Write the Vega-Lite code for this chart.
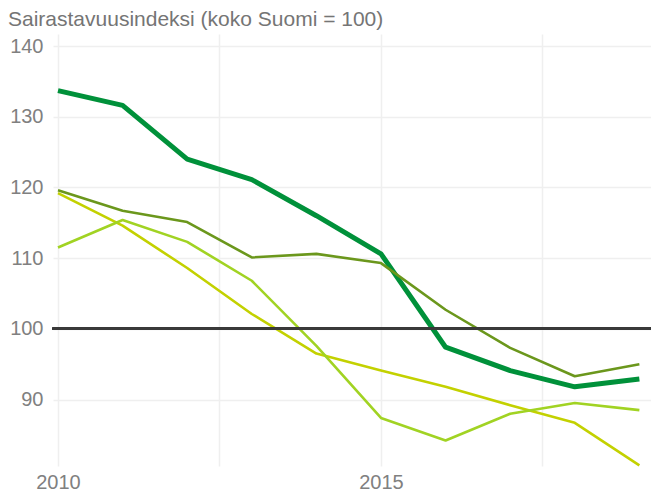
{
  "$schema": "https://vega.github.io/schema/vega-lite/v6.json",
  "width": 593,
  "height": 432,
  "autosize": {"type": "none"},
  "padding": {"left": 58, "top": 34, "right": 0, "bottom": 27},
  "background": "white",
  "title": {
    "text": "Sairastavuusindeksi (koko Suomi = 100)",
    "anchor": "start",
    "frame": "group",
    "dx": -50,
    "offset": 4,
    "font": "Liberation Sans",
    "fontSize": 21,
    "fontWeight": "normal",
    "color": "#757575"
  },
  "config": {
    "view": {"stroke": null},
    "axis": {
      "labelFont": "Liberation Sans",
      "labelFontSize": 20,
      "labelColor": "#808080",
      "gridColor": "#efefef",
      "gridWidth": 1.5,
      "domain": false,
      "title": null
    }
  },
  "data": {
    "values": [
      {"year": 2010, "series": "Alue", "value": 133.7},
      {"year": 2011, "series": "Alue", "value": 131.6},
      {"year": 2012, "series": "Alue", "value": 124.0},
      {"year": 2013, "series": "Alue", "value": 121.1},
      {"year": 2014, "series": "Alue", "value": 116.0},
      {"year": 2015, "series": "Alue", "value": 110.6},
      {"year": 2016, "series": "Alue", "value": 97.4},
      {"year": 2017, "series": "Alue", "value": 94.1},
      {"year": 2018, "series": "Alue", "value": 91.8},
      {"year": 2019, "series": "Alue", "value": 92.9},
      {"year": 2010, "series": "Vertailu 1", "value": 119.6},
      {"year": 2011, "series": "Vertailu 1", "value": 116.7},
      {"year": 2012, "series": "Vertailu 1", "value": 115.1},
      {"year": 2013, "series": "Vertailu 1", "value": 110.1},
      {"year": 2014, "series": "Vertailu 1", "value": 110.6},
      {"year": 2015, "series": "Vertailu 1", "value": 109.3},
      {"year": 2016, "series": "Vertailu 1", "value": 102.7},
      {"year": 2017, "series": "Vertailu 1", "value": 97.3},
      {"year": 2018, "series": "Vertailu 1", "value": 93.3},
      {"year": 2019, "series": "Vertailu 1", "value": 95.0},
      {"year": 2010, "series": "Vertailu 2", "value": 119.2},
      {"year": 2011, "series": "Vertailu 2", "value": 114.6},
      {"year": 2012, "series": "Vertailu 2", "value": 108.6},
      {"year": 2013, "series": "Vertailu 2", "value": 102.1},
      {"year": 2014, "series": "Vertailu 2", "value": 96.5},
      {"year": 2015, "series": "Vertailu 2", "value": 94.1},
      {"year": 2016, "series": "Vertailu 2", "value": 91.8},
      {"year": 2017, "series": "Vertailu 2", "value": 89.2},
      {"year": 2018, "series": "Vertailu 2", "value": 86.7},
      {"year": 2019, "series": "Vertailu 2", "value": 80.7},
      {"year": 2010, "series": "Vertailu 3", "value": 111.5},
      {"year": 2011, "series": "Vertailu 3", "value": 115.4},
      {"year": 2012, "series": "Vertailu 3", "value": 112.3},
      {"year": 2013, "series": "Vertailu 3", "value": 106.8},
      {"year": 2014, "series": "Vertailu 3", "value": 97.6},
      {"year": 2015, "series": "Vertailu 3", "value": 87.4},
      {"year": 2016, "series": "Vertailu 3", "value": 84.2},
      {"year": 2017, "series": "Vertailu 3", "value": 88.0},
      {"year": 2018, "series": "Vertailu 3", "value": 89.5},
      {"year": 2019, "series": "Vertailu 3", "value": 88.5}
    ]
  },
  "layer": [
    {
      "mark": {"type": "line", "strokeJoin": "round"},
      "encoding": {
        "x": {
          "field": "year",
          "type": "quantitative",
          "scale": {"domain": [2010, 2019.18], "nice": false, "zero": false},
          "axis": {
            "values": [2010, 2012.5, 2015, 2017.5],
            "format": "d",
            "labelExpr": "datum.value % 5 == 0 ? datum.label : ''",
            "ticks": false,
            "labelFlush": false,
            "labelBound": false,
            "labelPadding": 6
          }
        },
        "y": {
          "field": "value",
          "type": "quantitative",
          "scale": {"domain": [80.6, 141.7], "nice": false, "zero": false},
          "axis": {
            "values": [90, 100, 110, 120, 130, 140],
            "ticks": true,
            "tickColor": "#efefef",
            "tickWidth": 1.5,
            "tickSize": 5,
            "labelPadding": 10
          }
        },
        "color": {
          "field": "series",
          "type": "nominal",
          "scale": {
            "domain": ["Alue", "Vertailu 1", "Vertailu 2", "Vertailu 3"],
            "range": ["#00913a", "#6b971c", "#c3d100", "#a1d323"]
          },
          "legend": null
        },
        "strokeWidth": {
          "field": "series",
          "type": "nominal",
          "scale": {
            "type": "ordinal",
            "domain": ["Alue", "Vertailu 1", "Vertailu 2", "Vertailu 3"],
            "range": [5, 2.6, 2.6, 2.6]
          },
          "legend": null
        }
      }
    },
    {
      "mark": {"type": "rule", "color": "#3a3a3a", "strokeWidth": 2},
      "encoding": {
        "y": {"datum": 100},
        "x": {"datum": 2009.92},
        "x2": {"datum": 2019.18}
      }
    }
  ]
}
